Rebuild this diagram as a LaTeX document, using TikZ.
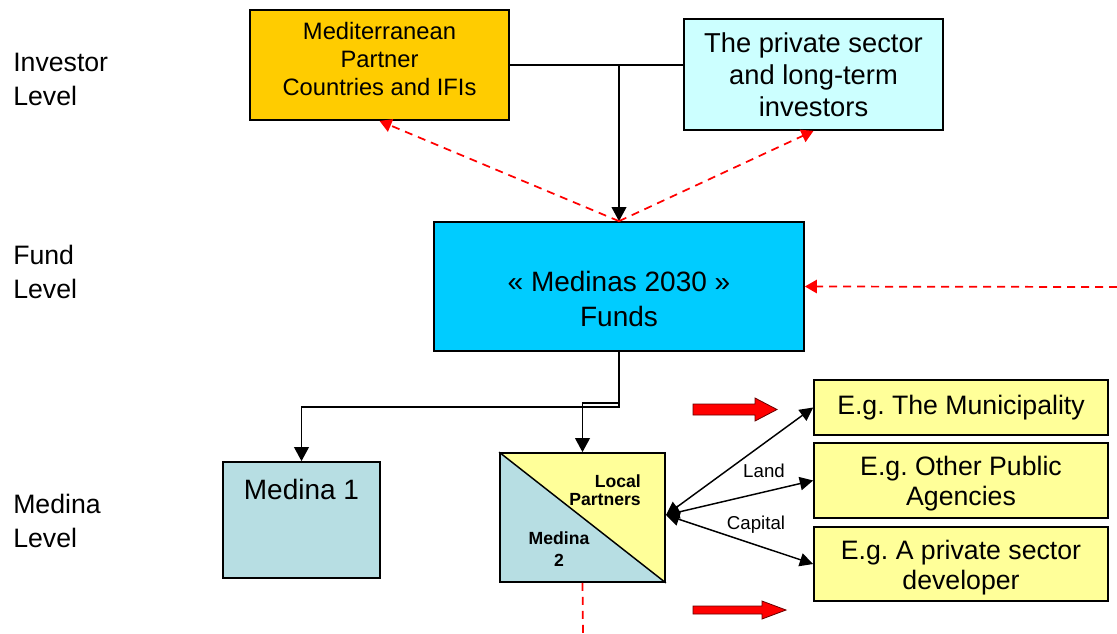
\documentclass[tikz,border=0pt]{standalone}
\usepackage{fontspec}
\setmainfont{Liberation Sans}
\frenchspacing
\usetikzlibrary{arrows.meta}
\definecolor{medyellow}{HTML}{FFCC00}
\definecolor{privcyan}{HTML}{CCFFFF}
\definecolor{fundblue}{HTML}{00CCFF}
\definecolor{medinablue}{HTML}{B7DEE3}
\definecolor{lightyellow}{HTML}{FFFF99}
\definecolor{arrowred}{HTML}{FF0000}
\tikzset{
  box/.style={draw=black, line width=1.3pt, rectangle, inner sep=2pt, align=center},
  txt/.style={inner sep=0pt, align=center},
  conn/.style={line width=1.3pt, -{Triangle[length=10.5pt,width=11pt]}},
  plain/.style={line width=1.3pt},
  reddash/.style={draw=arrowred, line width=1.3pt, dash pattern=on 6pt off 4.5pt, -{Triangle[length=9pt,width=10pt]}},
  reddashline/.style={draw=arrowred, line width=1.3pt, dash pattern=on 6pt off 4.5pt},
  dbl/.style={line width=1.1pt, {Triangle[length=10pt,width=10pt]}-{Triangle[length=10pt,width=10pt]}},
  levellabel/.style={anchor=west, align=left, inner sep=0pt, font=\fontsize{20}{25.5}\selectfont},
  blockarrow/.style={fill=arrowred, draw=black!60!red, line width=0.6pt},
}
\begin{document}
\begin{tikzpicture}[x=0.75pt,y=-0.75pt]
\useasboundingbox (0,0) rectangle (1117,633);

% level labels
\node[levellabel] (lv1) at (13,79) {Investor\\Level};
\node[levellabel] (lv2) at (13,272) {Fund\\Level};
\node[levellabel] (lv3) at (13,521) {Medina\\Level};

% investor level
\node[box, fill=medyellow, minimum width=194.25pt, minimum height=82.5pt] (med) at (379.5,65) {};
\node[txt, font=\fontsize{17.8}{21}\selectfont] (medt) at (379.5,59)
  {Mediterranean\\Partner\\Countries and IFIs};
\node[box, fill=privcyan, minimum width=194.25pt, minimum height=83.25pt,
      font=\fontsize{20.5}{24}\selectfont] (priv) at (813.5,74.5)
  {The private sector\\and long-term\\investors};

% fund level
\node[box, fill=fundblue, minimum width=277.5pt, minimum height=96.75pt] (fund) at (619,286.5) {};
\node[txt, font=\fontsize{21}{26}\selectfont] (fundt) at (619,299)
  {« Medinas 2030 »\\Funds};

% medina level
\node[box, fill=medinablue, minimum width=117.75pt, minimum height=87pt] (m1) at (301.5,520) {};
\node[txt, font=\fontsize{21}{25}\selectfont] (m1t) at (301.5,489) {Medina 1};

\fill[medinablue] (500,453) -- (500,582) -- (665,582) -- cycle;
\fill[lightyellow] (500,453) -- (665,453) -- (665,582) -- cycle;
\node[box, minimum width=123.75pt, minimum height=96.75pt] (m2) at (582.5,517.5) {};
\draw[line width=1.1pt] (m2.north west) -- (m2.south east);
\node[anchor=east, align=right, inner sep=0pt, font=\bfseries\fontsize{13.2}{13.5}\selectfont] (lp) at (641,490) {Local\\Partners};
\node[txt, font=\bfseries\fontsize{13.2}{16.5}\selectfont] (m2t) at (559,549) {Medina\\2};

\node[box, fill=lightyellow, minimum width=220.5pt, minimum height=41.25pt,
      font=\fontsize{20}{22.5}\selectfont] (e1) at (961,407.5) {E.g. The Municipality};
\node[box, fill=lightyellow, minimum width=220.5pt, minimum height=56.25pt] (e2) at (961,480.5) {};
\node[txt, font=\fontsize{20}{22.5}\selectfont] (e2t) at (961,484) {E.g. Other Public\\Agencies};
\node[box, fill=lightyellow, minimum width=220.5pt, minimum height=55.5pt] (e3) at (961,564) {};
\node[txt, font=\fontsize{20}{22.5}\selectfont] (e3t) at (961,567.5) {E.g. A private sector\\developer};

% connectors investor -> fund
\draw[plain] (med.east) -- (priv.west |- med.east);
\draw[conn] (med.east -| fund.north) -- (fund.north);
\draw[reddash] (fund.north) -- (med.south);
\draw[reddash] (fund.north) -- (priv.south);

\coordinate (rin) at (1117,287);
\draw[reddash] (rin) -- (fund.east);

% fund -> medinas
\draw[conn] (fund.south) -- ++(0,55) -| (m1.north);
\draw[conn] (fund.south) -- ++(0,51) -| (m2.north);

\coordinate (bout) at (583,633);
\draw[reddashline] (m2.south) -- (bout);

% medina 2 -> partners
\coordinate (m2e) at (666,515);
\draw[dbl] (m2e) -- (e1.west);
\draw[dbl] (m2e) -- (e2.west);
\draw[dbl] (m2e) -- (e3.west);
\node[font=\fontsize{14}{16}\selectfont, inner sep=0pt] (land) at (764,471) {Land};
\node[font=\fontsize{14}{16}\selectfont, inner sep=0pt] (cap) at (756,525) {Capital};

% red block arrows
\draw[blockarrow] (693,404) -- (755,404) -- (755,398) -- (777,409.5) -- (755,421) -- (755,415) -- (693,415) -- cycle;
\draw[blockarrow] (693,606) -- (762,606) -- (762,601) -- (786,610) -- (762,619) -- (762,614) -- (693,614) -- cycle;
\end{tikzpicture}
\end{document}
